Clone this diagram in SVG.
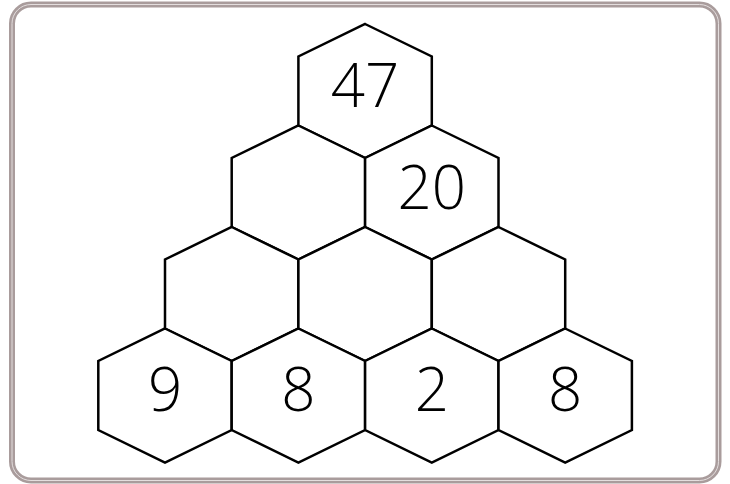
<svg xmlns="http://www.w3.org/2000/svg" width="730" height="484" viewBox="0 0 730 484">
<defs>
<style>
.frame{fill:none;stroke:#a99c9c;stroke-width:6}
.frame-in{fill:none;stroke:#e4dede;stroke-width:1}
.hex{fill:#ffffff;stroke:#000000;stroke-width:2.5;stroke-linejoin:miter}
.num{font-family:"Open Sans","Liberation Sans",sans-serif;font-weight:300;font-size:60px;fill:#000000;text-anchor:middle}
</style>
<polygon id="hexShape" points="0,-67 66.7,-34.5 66.7,34.5 0,67 -66.7,34.5 -66.7,-34.5"/>
</defs>
<rect width="730" height="484" fill="#ffffff"/>
<rect class="frame" x="12" y="4.5" width="706.5" height="476" rx="19"/>
<rect class="frame-in" x="12" y="4.5" width="706.5" height="476" rx="19"/>
<g id="nodes">
<g id="r1c1"><use href="#hexShape" class="hex" x="365.1" y="91"/><text class="num" x="365.1" y="107">47</text></g>
<g id="r2c1"><use href="#hexShape" class="hex" x="298.4" y="192.5"/></g>
<g id="r2c2"><use href="#hexShape" class="hex" x="431.8" y="192.5"/><text class="num" x="431.8" y="208.5">20</text></g>
<g id="r3c1"><use href="#hexShape" class="hex" x="231.7" y="294"/></g>
<g id="r3c2"><use href="#hexShape" class="hex" x="365.1" y="294"/></g>
<g id="r3c3"><use href="#hexShape" class="hex" x="498.5" y="294"/></g>
<g id="r4c1"><use href="#hexShape" class="hex" x="165" y="395.5"/><text class="num" x="165" y="411">9</text></g>
<g id="r4c2"><use href="#hexShape" class="hex" x="298.4" y="395.5"/><text class="num" x="298.4" y="411">8</text></g>
<g id="r4c3"><use href="#hexShape" class="hex" x="431.8" y="395.5"/><text class="num" x="431.8" y="411">2</text></g>
<g id="r4c4"><use href="#hexShape" class="hex" x="565.2" y="395.5"/><text class="num" x="565.2" y="411">8</text></g>
</g>
<g id="connectors"/>
</svg>
